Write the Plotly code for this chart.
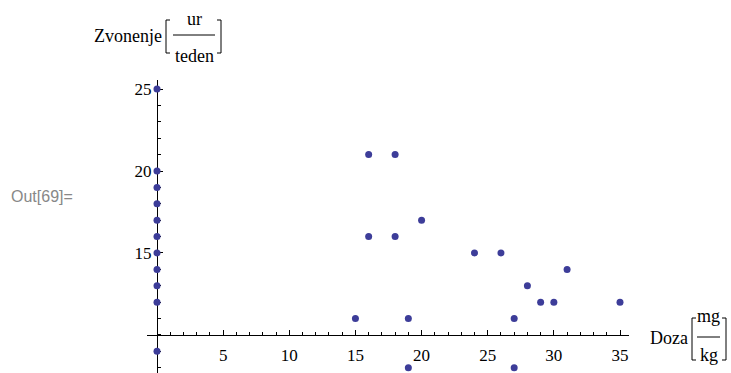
import plotly.graph_objects as go

W, H = 731, 373

# ---- data ----
doza = [0, 0, 0, 0, 0, 0, 0, 0, 0, 0, 0,
        16, 18, 20, 16, 18, 24, 26, 31, 28, 29, 30, 15, 19, 27, 35, 19, 27]
zvonenje = [25, 20, 19, 18, 17, 16, 15, 14, 13, 12, 9,
            21, 21, 17, 16, 16, 15, 15, 14, 13, 12, 12, 11, 11, 11, 12, 8, 8]

x_tickvals = [5, 10, 15, 20, 25, 30, 35]
x_ticktext = ["5", "10", "15", "20", "25", "30", "35"]
y_tickvals = [15, 20, 25]
y_ticktext = ["15", "20", "25"]
x_minor = list(range(1, 36))
y_minor = list(range(8, 26))

x_range = [-0.756, 35.68]
y_range = [7.68, 25.55]
x_origin = 0
y_origin = 10

# ---- helpers (pixel -> paper) ----
def px(p):
    return p / W

def py(p):
    return 1 - p / H

x_dom = [px(147), px(629)]
y_dom = [0.0, py(80)]

def y_to_paper(v):
    return y_dom[0] + (v - y_range[0]) / (y_range[1] - y_range[0]) * (y_dom[1] - y_dom[0])

def x_to_paper(v):
    return x_dom[0] + (v - x_range[0]) / (x_range[1] - x_range[0]) * (x_dom[1] - x_dom[0])

SERIF = "Liberation Serif"
DOT = "#3d3d99"

fig = go.Figure()
fig.add_trace(go.Scatter(
    x=doza, y=zvonenje, mode="markers",
    marker=dict(size=7, color=DOT, line=dict(width=0)),
    cliponaxis=False, hoverinfo="x+y"))

fig.update_layout(
    width=W, height=H,
    margin=dict(l=0, r=0, t=0, b=0),
    paper_bgcolor="white", plot_bgcolor="white",
    showlegend=False,
    font=dict(family=SERIF, size=17, color="black"),
    xaxis=dict(
        domain=x_dom, range=x_range, anchor="free",
        position=y_to_paper(y_origin),
        showgrid=False, zeroline=False,
        showline=True, linecolor="black", linewidth=1,
        ticks="inside", ticklen=5, tickwidth=1, tickcolor="black",
        tickmode="array", tickvals=x_tickvals, ticktext=x_ticktext,
        minor=dict(tickmode="array", tickvals=x_minor, ticks="inside",
                   ticklen=3, tickwidth=1, tickcolor="black"),
        ticklabelstandoff=5,
        tickfont=dict(family=SERIF, size=17, color="black"),
        layer="below traces", fixedrange=True),
    yaxis=dict(
        domain=y_dom, range=y_range, anchor="free",
        position=x_to_paper(x_origin),
        showgrid=False, zeroline=False,
        showline=True, linecolor="black", linewidth=1,
        ticks="inside", ticklen=5, tickwidth=1, tickcolor="black",
        tickmode="array", tickvals=y_tickvals, ticktext=y_ticktext,
        minor=dict(tickmode="array", tickvals=y_minor, ticks="inside",
                   ticklen=3, tickwidth=1, tickcolor="black"),
        ticklabelstandoff=2,
        tickfont=dict(family=SERIF, size=17, color="black"),
        layer="below traces", fixedrange=True),
)

annotations = []
shapes = []

def text(t, x, y, xanchor="center", size=17, family=SERIF, color="black"):
    annotations.append(dict(text=t, x=px(x), y=py(y), xref="paper", yref="paper",
                            xanchor=xanchor, yanchor="middle", showarrow=False,
                            font=dict(family=family, size=size, color=color)))

def bracket(x_line, x_tip, y0, y1):
    path = (f"M {px(x_tip)},{py(y0)} L {px(x_line)},{py(y0)} "
            f"L {px(x_line)},{py(y1)} L {px(x_tip)},{py(y1)}")
    shapes.append(dict(type="path", path=path, xref="paper", yref="paper",
                       line=dict(color="black", width=1)))

def hline(x0, x1, y):
    shapes.append(dict(type="line", x0=px(x0), x1=px(x1), y0=py(y), y1=py(y),
                       xref="paper", yref="paper", line=dict(color="black", width=1)))

# y axis label: Zvonenje[ur/teden]
text("Zvonenje", 164, 36, xanchor="right", size=18)
bracket(166, 170, 20, 53)
text("ur", 194, 19, size=18)
hline(173, 215, 35)
text("teden", 194, 56, size=18)
bracket(221, 217, 20, 53)

# x axis label: Doza[mg/kg]
text("Doza", 690, 338, xanchor="right", size=18)
bracket(692, 696, 318, 360)
text("mg", 708.5, 316, size=18)
hline(697, 720, 337)
text("kg", 708.5, 355, size=18)
bracket(726, 722, 318, 360)

# cell label
text("Out[69]=", 9, 196, xanchor="left", size=16, family="Liberation Sans", color="#888888")

fig.update_layout(annotations=annotations, shapes=shapes)

fig.write_html("out.html")
